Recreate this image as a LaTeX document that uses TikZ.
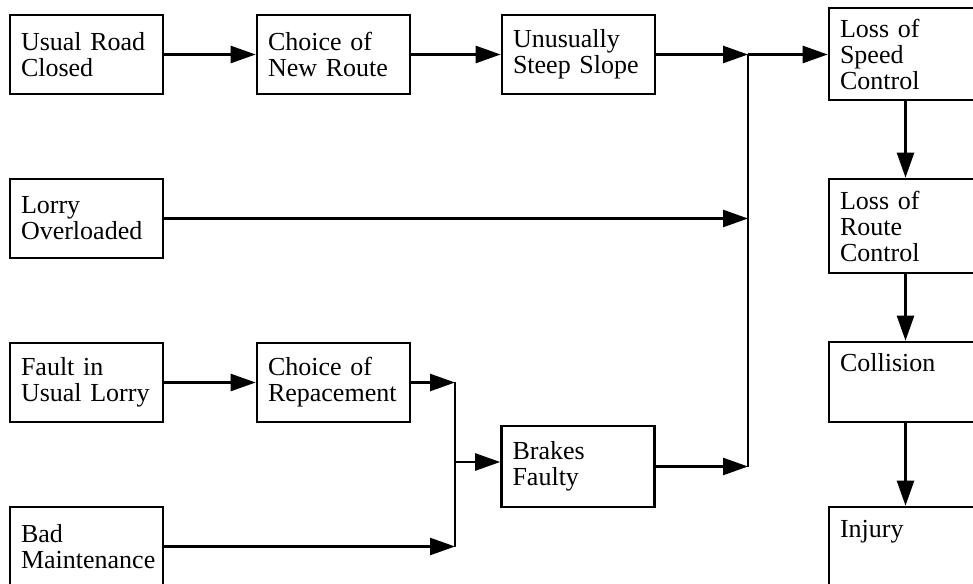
\documentclass[tikz,border=0pt]{standalone}
\usepackage{fontspec}
\setmainfont{Liberation Serif}
\usetikzlibrary{arrows.meta}
\begin{document}
\begin{tikzpicture}[>={Triangle[length=5mm,width=3.4mm]},
		event/.style={draw, line width=1.5pt, rectangle, text width=2.62cm, inner xsep=0.22cm, inner ysep=0.1cm, align=left, font=\fontsize{14.8}{14.8}\selectfont},
		topevent/.style={event, inner ysep=0.22cm, text height=0.38cm, text depth=0.78cm},
		link/.style={line width=1.4pt}]
		\useasboundingbox (0, 0) rectangle (19.46, 11.66);
		\clip (0, 0) rectangle (19.46, 11.66);
		
		\node[event, minimum height=1.58cm] (usual) at (1.73, 10.57) {Usual Road\\Closed};
		\node[event, minimum height=1.58cm] (newroute) at (6.67, 10.57) {Choice of\\New Route};
		\node[event, minimum height=1.58cm] (steep) at (11.57, 10.57) {Unusually\\Steep Slope};
		\node[event, minimum height=1.84cm] (speed) at (18.11, 10.58) {Loss of\\Speed\\Control};
		\node[event, minimum height=1.58cm] (lorry) at (1.73, 7.29) {Lorry\\Overloaded};
		\node[event, minimum height=1.88cm] (route) at (18.11, 7.14) {Loss of\\Route\\Control};
		\node[event, minimum height=1.58cm] (fault) at (1.73, 4.01) {Fault in\\Usual Lorry};
		\node[event, minimum height=1.58cm] (repl) at (6.67, 4.01) {Choice of\\Repacement};
		\node[topevent] (collision) at (18.11, 4.02) {Collision};
		\node[event, minimum height=1.62cm] (brakes) at (11.56, 2.33) {Brakes\\Faulty};
		\node[event, minimum height=1.58cm] (bad) at (1.73, 0.73) {Bad\\Maintenance};
		\node[topevent] (injury) at (18.11, 0.72) {Injury};
		
		\coordinate (jtop) at (14.96, 10.57);
		\coordinate (jbot) at (14.96, 2.33);
		\coordinate (jmid) at (9.10, 2.42);
		
		\draw[link, ->] (usual) -- (newroute);
		\draw[link, ->] (newroute) -- (steep);
		\draw[link, ->] (steep) -- (jtop);
		\draw[link, ->] (jtop) -- (jtop -| speed.west);
		\draw[link] (jtop) -- (jbot);
		\draw[link, ->] (lorry) -- (lorry -| jtop);
		\draw[link, ->] (brakes) -- (jbot);
		
		\draw[link, ->] (fault) -- (repl);
		\draw[link, ->] (repl) -- (repl -| jmid);
		\draw[link, ->] (bad) -- (bad -| jmid);
		\draw[link] (jmid |- repl) -- (jmid |- bad);
		\draw[link, ->] (jmid) -- (jmid -| brakes.west);
		
		\draw[link, ->] (speed) -- (route);
		\draw[link, ->] (route) -- (collision);
		\draw[link, ->] (collision) -- (injury);
	\end{tikzpicture}
\end{document}
